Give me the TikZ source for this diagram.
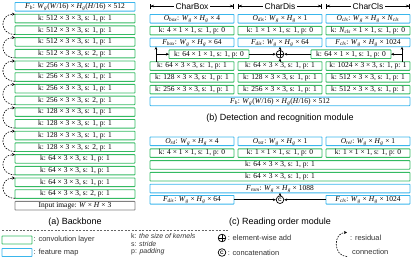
\documentclass[tikz,border=0pt]{standalone}
\usepackage{fontspec}
\setsansfont{Liberation Sans}
\newfontfamily\boxfont{Liberation Serif}
\usepackage{tikz}
\usetikzlibrary{arrows.meta,positioning,calc}

\definecolor{convgreen}{RGB}{52,186,98}
\definecolor{fmapblue}{RGB}{58,182,236}
\definecolor{inputgray}{RGB}{128,128,128}

% italic symbol with italic subscript
\newcommand\isb[2]{\textit{#1}\textsubscript{\textit{#2}}}

\begin{document}
\begin{tikzpicture}[
    x=1bp, y=-1bp,
    font=\boxfont\fontsize{7.5}{8}\selectfont,
    box/.style={draw, line width=0.9bp, rounded corners=0.6bp, inner sep=0pt, outer sep=0pt, minimum height=8.6bp,
        text height=5.1bp, text depth=1.5bp, align=center},
    conv/.style={box, draw=convgreen},
    fmap/.style={box, draw=fmapblue},
    bbw/.style={minimum width=120bp},
    colw/.style={minimum width=84bp},
    wide/.style={minimum width=260bp},
    arr/.style={-{Stealth[length=3bp,width=2.6bp]}, line width=0.6bp},
    res/.style={-{Stealth[length=3bp,width=3bp]}, line width=0.6bp, dash pattern=on 1.6bp off 1.2bp},
    dimline/.style={{Bar[width=5bp]Stealth[length=3.5bp,width=2.6bp]}-{Stealth[length=3.5bp,width=2.6bp]Bar[width=5bp]}, line width=0.6bp},
    hdr/.style={fill=white, inner sep=1.5bp, font=\sffamily\fontsize{8.5}{9}\selectfont},
    capt/.style={font=\sffamily\fontsize{9}{10}\selectfont},
    lgtext/.style={font=\sffamily\fontsize{7.5}{7.6}\selectfont, text=black!80, inner sep=0pt},
    addop/.style={circle, draw, line width=0.7bp, inner sep=0pt, minimum size=7.6bp,
        path picture={\draw[line width=0.7bp] (path picture bounding box.north) -- (path picture bounding box.south)
            (path picture bounding box.west) -- (path picture bounding box.east);}},
    catop/.style={circle, draw, line width=0.7bp, inner sep=0pt, minimum size=7.6bp, font=\sffamily\bfseries\fontsize{5}{5}\selectfont}
]
\useasboundingbox (0,0) rectangle (415,260);

% (a) backbone
\node[fmap, bbw, alias=bb0] (fb) at (75,6.8) {\isb{F}{b}: \isb{W}{g}(\textit{W}/16) × \isb{H}{g}(\textit{H}/16) × 512};
\foreach \c/\s [count=\i, remember=\i as \j (initially 0)] in {512/1,512/1,512/1,512/2,256/1,256/1,256/1,256/2,128/1,128/1,128/1,128/2,64/1,64/1,64/1,64/2}
    \node[conv, bbw, below=3.1bp of bb\j] (bb\i) {k: \c{} × 3 × 3, s: \s, p: 1};
\node[box, bbw, draw=inputgray, below=3.1bp of bb16] (input) {Input image: \textit{W} × \textit{H} × 3};

\foreach \k [evaluate=\k as \lo using int(2*\k), evaluate=\k as \hi using int(2*\k-1)] in {1,...,8}
    \draw[res] (bb\lo.south west) to[out=180, in=180, looseness=2] (bb\hi.north west);

\node[capt] (capta) at (75,222) {(a) Backbone};

% (b) detection and recognition
\node[fmap, colw] (obox) at (192,18.8) {\isb{O}{box}: \isb{W}{g} × \isb{H}{g} × 4};
\node[conv, colw, below=3.2bp of obox] (kbox) {k: 4 × 1 × 1, s: 1, p: 0};
\node[fmap, colw, below=3.2bp of kbox] (fbox) {\isb{F}{box}: \isb{W}{g} × \isb{H}{g} × 64};
\node[conv, colw, below=15bp of fbox] (cbox1) {k: 64 × 3 × 3, s: 1, p: 1};
\node[conv, colw, below=3.2bp of cbox1] (cbox2) {k: 128 × 3 × 3, s: 1, p: 1};
\node[conv, colw, below=3.2bp of cbox2] (cbox3) {k: 256 × 3 × 3, s: 1, p: 1};

\node[fmap, colw] (odis) at (280,18.8) {\isb{O}{dis}: \isb{W}{g} × \isb{H}{g} × 1};
\node[conv, colw, below=3.2bp of odis] (kdis) {k: 1 × 1 × 1, s: 1, p: 0};
\node[fmap, colw, below=3.2bp of kdis] (fdis) {\isb{F}{dis}: \isb{W}{g} × \isb{H}{g} × 64};
\node[conv, colw, below=15bp of fdis] (cdis1) {k: 64 × 3 × 3, s: 1, p: 1};
\node[conv, colw, below=3.2bp of cdis1] (cdis2) {k: 128 × 3 × 3, s: 1, p: 1};
\node[conv, colw, below=3.2bp of cdis2] (cdis3) {k: 256 × 3 × 3, s: 1, p: 1};

\node[fmap, colw] (ocls) at (368,18.8) {\isb{O}{cls}: \isb{W}{g} × \isb{H}{g} × \isb{N}{cls}};
\node[conv, colw, below=3.2bp of ocls] (kcls) {k: \isb{N}{cls} × 1 × 1, s: 1, p: 0};
\node[fmap, colw, below=3.2bp of kcls] (fcls) {\isb{F}{cls}: \isb{W}{g} × \isb{H}{g} × 1024};
\node[conv, colw, below=15bp of fcls] (ccls1) {k: 1024 × 3 × 3, s: 1, p: 1};
\node[conv, colw, below=3.2bp of ccls1] (ccls2) {k: 512 × 3 × 3, s: 1, p: 1};
\node[conv, colw, below=3.2bp of ccls2] (ccls3) {k: 512 × 3 × 3, s: 1, p: 1};

\node[fmap, wide, below=3.2bp of cdis3] (fbb) {\isb{F}{b}: \isb{W}{g}(\textit{W}/16) × \isb{H}{g}(\textit{H}/16) × 512};

\node[conv, minimum width=80bp] (pbox) at ($(fbox)!0.5!(cbox1)+(17,0)$) {k: 64 × 1 × 1, s: 1, p: 0};
\node[conv, minimum width=80bp] (pcls) at ($(fcls)!0.5!(ccls1)+(-17,0)$) {k: 64 × 1 × 1, s: 1, p: 0};
\node[addop] (add) at ($(fdis)!0.5!(cdis1)$) {};

\coordinate (tapbox) at ([xshift=6bp]cbox1.north west);
\coordinate (tapcls) at ([xshift=-8bp]ccls1.north east);
\draw[arr] (tapbox) -- (tapbox |- fbox.south);
\draw[arr] (tapbox |- pbox.west) -- (pbox.west);
\draw[arr] (tapcls) -- (tapcls |- fcls.south);
\draw[arr] (tapcls |- pcls.east) -- (pcls.east);
\draw[arr] (pbox) -- (add);
\draw[arr] (pcls) -- (add);
\draw[arr] (cdis1) -- (add);
\draw[arr] (add) -- (fdis);

\draw[dimline] ([yshift=8.5bp]obox.north west) -- ([yshift=8.5bp]obox.north east) node[midway, hdr] {CharBox};
\draw[dimline] ([yshift=8.5bp]odis.north west) -- ([yshift=8.5bp]odis.north east) node[midway, hdr] {CharDis};
\draw[dimline] ([yshift=8.5bp]ocls.north west) -- ([yshift=8.5bp]ocls.north east) node[midway, hdr] {CharCls};

\node[capt] (captb) at (280,118) {(b) Detection and recognition module};

% (c) reading order
\node[fmap, colw] (ord) at (192,141.3) {\isb{O}{rd}: \isb{W}{g} × \isb{H}{g} × 4};
\node[fmap, colw] (osst) at (280,141.3) {\isb{O}{sst}: \isb{W}{g} × \isb{H}{g} × 1};
\node[fmap, colw] (orel) at (368,141.3) {\isb{O}{rel}: \isb{W}{g} × \isb{H}{g} × 1};
\node[conv, colw, below=3.2bp of ord] (krd) {k: 4 × 1 × 1, s: 1, p: 0};
\node[conv, colw, below=3.2bp of osst] (ksst) {k: 1 × 1 × 1, s: 1, p: 0};
\node[conv, colw, below=3.2bp of orel] (krel) {k: 1 × 1 × 1, s: 1, p: 0};
\node[conv, wide, below=3.2bp of ksst] (rc1) {k: 64 × 3 × 3, s: 1, p: 1};
\node[conv, wide, below=3.2bp of rc1] (rc2) {k: 64 × 3 × 3, s: 1, p: 1};
\node[fmap, wide, below=3.2bp of rc2] (fread) {\isb{F}{rom}: \isb{W}{g} × \isb{H}{g} × 1088};
\node[catop, below=2.8bp of fread] (cat) {C};
\node[fmap, colw] (fdisr) at (ord |- cat) {\isb{F}{dis}: \isb{W}{g} × \isb{H}{g} × 64};
\node[fmap, colw] (fclsr) at (orel |- cat) {\isb{F}{cls}: \isb{W}{g} × \isb{H}{g} × 1024};

\draw[arr] (fdisr) -- (cat);
\draw[arr] (fclsr) -- (cat);
\draw[arr] (cat) -- (fread);

\node[capt] (captc) at (280,222) {(c) Reading order module};

% legend
\draw[line width=0.6bp, dash pattern=on 2bp off 1.5bp, black!60] (2,230) -- (228,230);
\node[conv, minimum width=30bp, minimum height=8bp] (lgconv) at (17,240) {};
\node[lgtext, right=1.5bp of lgconv] (lgconvt) {: convolution layer};
\node[fmap, minimum width=30bp, minimum height=8bp] (lgfmap) at (17,252.5) {};
\node[lgtext, right=1.5bp of lgfmap] (lgfmapt) {: feature map};
\node[lgtext, anchor=north west, align=left, font=\sffamily\fontsize{7}{7.6}\selectfont] (lgksp) at (131,233.5)
    {k: \textit{the size of kernels}\\s: \textit{stride}\\p: \textit{padding}};
\node[addop] (lgadd) at (222,238) {};
\node[lgtext, right=1.5bp of lgadd] (lgaddt) {: element-wise add};
\node[catop] (lgcat) at (222,252.5) {C};
\node[lgtext, right=1.5bp of lgcat] (lgcatt) {: concatenation};
\coordinate (lgrtop) at (347,232.5);
\coordinate (lgrbot) at (347,256.5);
\draw[res] (lgrbot) to[out=180, in=180, looseness=1.5] (lgrtop);
\node[lgtext, anchor=west] (lgrest) at (350,238) {: residual};
\node[lgtext, anchor=west] (lgrescon) at (352,252) {connection};
\end{tikzpicture}
\end{document}
